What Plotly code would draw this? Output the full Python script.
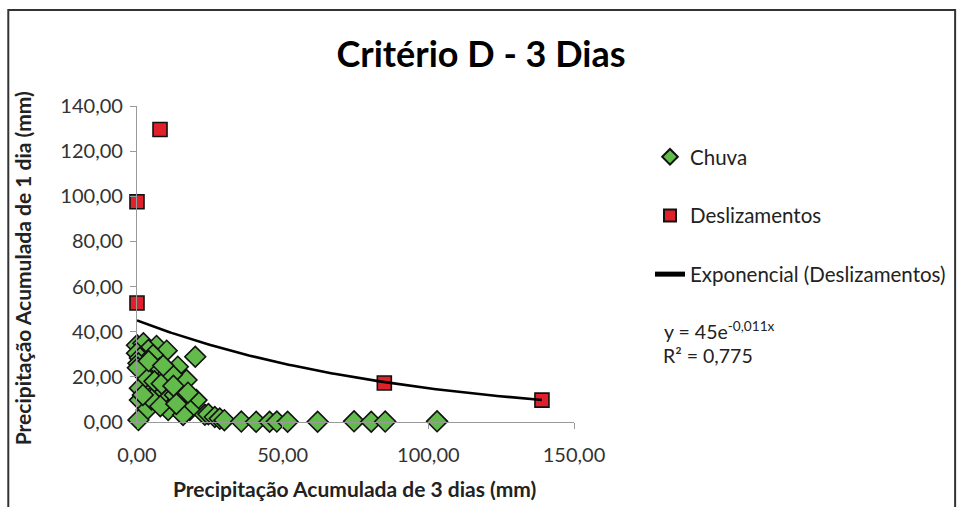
import numpy as np
import plotly.graph_objects as go

# Chuva (rain events): 3-day accumulated vs 1-day accumulated precipitation (mm)
chuva_x = [0.0, 2.2, 6.7, 10.2, 3.9, 0.0, 1.0, 5.5, 20.0, 2.7, 7.9, 14.0, 10.2, 17.0,
           1.0, 4.5, 7.3, 9.6, 11.9, 1.0, 10.7, 15.8, 19.3, 20.4, 3.3, 10.7, 18.1, 15.8,
           0.5, 0.5, 3.0, 6.0, 8.5, 12.0, 13.0, 5.0, 8.0, 13.5, 17.5, 2.0, 0.3, 4.0,
           9.0, 12.5, 23.3, 24.5, 26.7, 28.4, 30.0, 35.8, 40.9, 45.5, 48.0, 51.7,
           62.0, 74.5, 80.4, 85.2, 103.0]
chuva_y = [34.0, 34.9, 33.7, 31.6, 31.9, 30.5, 28.4, 29.7, 28.9, 23.0, 23.9, 24.5, 20.8, 18.6,
           15.0, 14.2, 14.2, 13.4, 15.0, 9.7, 10.5, 10.5, 10.5, 9.7, 5.3, 5.3, 5.3, 3.1,
           0.9, 26.0, 20.0, 18.0, 17.0, 21.0, 12.0, 10.0, 7.0, 8.0, 13.0, 12.0, 24.0, 27.0,
           25.0, 16.0, 3.2, 3.5, 2.2, 1.5, 0.8, 0.2, 0.1, 0.1, 0.2, 0.1,
           0.1, 0.3, 0.1, 0.2, 0.3]

# Deslizamentos (landslide events)
desl_x = [0.0, 0.0, 7.9, 84.9, 139.0]
desl_y = [97.6, 52.7, 129.6, 17.3, 9.7]

# Exponential trendline fitted to the landslide events
trend_a = 45.0
trend_b = -0.011

x_ticks = [0, 50, 100, 150]
x_ticklabels = ["0,00", "50,00", "100,00", "150,00"]
y_ticks = [0, 20, 40, 60, 80, 100, 120, 140]
y_ticklabels = ["0,00", "20,00", "40,00", "60,00", "80,00", "100,00", "120,00", "140,00"]

FONT = "Lato, 'Open Sans', sans-serif"

tx = np.linspace(min(desl_x), max(desl_x), 200)
ty = trend_a * np.exp(trend_b * tx)

fig = go.Figure()
fig.add_trace(go.Scatter(
    x=chuva_x, y=chuva_y, mode="markers", name="Chuva", legendgroup="a",
    cliponaxis=False,
    marker=dict(symbol="diamond", size=16, color="#62bb4a",
                line=dict(color="#111111", width=1.6)),
))
fig.add_trace(go.Scatter(
    x=desl_x, y=desl_y, mode="markers", name="Deslizamentos", legendgroup="b",
    cliponaxis=False,
    marker=dict(symbol="square", size=14, color="#e0202a",
                line=dict(color="#111111", width=1.6)),
))
fig.add_trace(go.Scatter(
    x=tx, y=ty, mode="lines", name="Exponencial (Deslizamentos)", legendgroup="c",
    cliponaxis=False,
    line=dict(color="#000000", width=2.6),
))

W, H = 962, 507
L, R, T, B = 137, 575, 106, 422
pw, ph = R - L, B - T


def px(xp):
    return (xp - L) / pw


def py(yp):
    return (B - yp) / ph


fig.update_layout(
    width=W, height=H,
    margin=dict(l=L, r=W - R, t=T, b=H - B),
    paper_bgcolor="white", plot_bgcolor="white",
    font=dict(family=FONT, size=20, color="#333333"),
    title=dict(text="<b>Critério D - 3 Dias</b>", x=0.5, xanchor="center",
               y=1 - 54 / H, yanchor="middle", yref="container",
               font=dict(family=FONT, size=36, color="#000000")),
    showlegend=True,
    legend=dict(x=px(650), y=py(137), xanchor="left", yanchor="top",
                tracegroupgap=29, bgcolor="rgba(0,0,0,0)",
                font=dict(family=FONT, size=20.5, color="#222222"),
                itemsizing="constant"),
    xaxis=dict(range=[0, 150], tickvals=x_ticks, ticktext=x_ticklabels,
               showgrid=False, zeroline=False, showline=True, linecolor="#9a9a9a",
               linewidth=1.2, ticks="outside", ticklen=6, tickcolor="#9a9a9a",
               ticklabelstandoff=9, tickfont=dict(size=20, color="#333333")),
    yaxis=dict(range=[0, 140], tickvals=y_ticks, ticktext=y_ticklabels,
               showgrid=False, zeroline=False, showline=True, linecolor="#9a9a9a",
               linewidth=1.2, ticks="outside", ticklen=6, tickcolor="#9a9a9a",
               ticklabelstandoff=3, tickfont=dict(size=20, color="#333333")),
    shapes=[dict(type="rect", xref="paper", yref="paper",
                 x0=px(8), x1=px(957), y0=py(512), y1=py(10),
                 line=dict(color="#333333", width=2), fillcolor="rgba(0,0,0,0)",
                 layer="below")],
    annotations=[
        dict(text="<b>Precipitação Acumulada de 3 dias (mm)</b>", xref="paper", yref="paper",
             x=px(355), y=py(488), xanchor="center", yanchor="middle", showarrow=False,
             font=dict(family=FONT, size=21, color="#222222")),
        dict(text="<b>Precipitação Acumulada de 1 dia (mm)</b>", xref="paper", yref="paper",
             x=px(22), y=py(268), xanchor="center", yanchor="middle", showarrow=False,
             textangle=-90, font=dict(family=FONT, size=21, color="#222222")),
        dict(text="y = 45e<sup>-0,011x</sup>", xref="paper", yref="paper",
             x=px(663), y=py(330), xanchor="left", yanchor="middle", showarrow=False,
             font=dict(family=FONT, size=19.5, color="#222222")),
        dict(text="R² = 0,775", xref="paper", yref="paper",
             x=px(662), y=py(355), xanchor="left", yanchor="middle", showarrow=False,
             font=dict(family=FONT, size=19.5, color="#222222")),
    ],
)

fig.write_html("out.html")
